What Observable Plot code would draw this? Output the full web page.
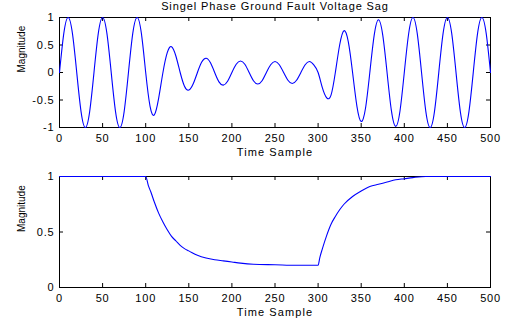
<!DOCTYPE html>
<html><head><meta charset="utf-8">
<script src="https://cdn.jsdelivr.net/npm/d3@7"></script>
<script src="https://cdn.jsdelivr.net/npm/@observablehq/plot@0.6"></script>
<style>body{margin:0;background:#fff} svg{display:block}</style>
</head><body><div id="chart"></div>
<script>
const title = "Singel Phase Ground Fault Voltage Sag";
const xLabel = "Time Sample";
const yLabel = "Magnitude";
const xTicks = [0, 50, 100, 150, 200, 250, 300, 350, 400, 450, 500];
const waveTicks = [-1, -0.5, 0, 0.5, 1];
const envTicks = [0, 0.5, 1];

const waveT = [0,5,10,15,20,25,30,35,40,45,50,55,60,65,70,75,80,85,90,95,
  100,105,110,115,120,125,130,135,140,145,150,155,160,165,170,175,180,185,190,195,
  200,205,210,215,220,225,230,235,240,245,250,255,260,265,270,275,280,285,290,295,
  300,305,310,315,320,325,330,335,340,345,350,355,360,365,370,375,380,385,390,395,
  400,405,410,415,420,425,430,435,440,445,450,455,460,465,470,475,480,485,490,495,500];
const waveV = [0,0.71,1,0.71,0,-0.71,-1,-0.71,0,0.71,1,0.71,0,-0.71,-1,-0.71,0,0.71,1,0.71,
  0,-0.61,-0.77,-0.47,0,0.36,0.47,0.30,0,-0.25,-0.32,-0.21,0,0.19,0.26,0.18,0,-0.17,-0.23,-0.16,
  0,0.15,0.21,0.15,0,-0.15,-0.21,-0.15,0,0.14,0.2,0.14,0,-0.14,-0.2,-0.14,0,0.14,0.2,0.14,
  0,-0.28,-0.46,-0.41,0,0.5,0.76,0.56,0,-0.61,-0.89,-0.65,0,0.67,0.96,0.68,0,-0.69,-0.98,-0.7,
  0,0.7,1,0.71,0,-0.71,-1,-0.71,0,0.71,1,0.71,0,-0.71,-1,-0.71,0,0.71,1,0.71,0];

const envT = [0,50,100,103,106,110,115,120,125,130,135,140,145,150,160,170,180,190,200,210,225,250,275,300,
  302,305,310,315,320,325,330,340,350,360,370,380,390,400,410,425,450,500];
const envV = [1,1,1,0.92,0.86,0.77,0.67,0.59,0.52,0.46,0.42,0.38,0.35,0.33,0.29,0.265,0.25,0.24,0.23,0.22,0.21,0.205,0.2,0.2,
  0.27,0.35,0.47,0.57,0.64,0.7,0.75,0.82,0.87,0.91,0.93,0.95,0.97,0.98,0.99,1,1,1];

const wave = waveT.map((t, i) => ({t, v: waveV[i]}));
const env = envT.map((t, i) => ({t, v: envV[i]}));

const W = 505, ML = 59, MR = 15;
const font = "'Liberation Sans', Arial, Helvetica, sans-serif";

function panel({data, yDomain, yTicks, height, marginTop, marginBottom, curve, titleText}) {
  const plotH = height - marginTop - marginBottom;
  const plotW = W - ML - MR;
  const marks = [
    Plot.frame({stroke: "#000", strokeWidth: 1}),
    Plot.tickX(xTicks, {x: d => d, insetTop: plotH - 4, stroke: "#000"}),
    Plot.tickX(xTicks, {x: d => d, insetBottom: plotH - 4, stroke: "#000"}),
    Plot.tickY(yTicks, {y: d => d, insetRight: plotW - 4, stroke: "#000"}),
    Plot.tickY(yTicks, {y: d => d, insetLeft: plotW - 4, stroke: "#000"}),
    Plot.line(data, {x: "t", y: "v", stroke: "#0000ff", strokeWidth: 1.1, curve}),
    Plot.axisX(xTicks, {anchor: "bottom", tickSize: 0, tickPadding: 7, label: null, fontSize: 11, tickFormat: d => String(d)}),
    Plot.axisY(yTicks, {anchor: "left", tickSize: 0, tickPadding: 5, label: null, fontSize: 11, tickFormat: d => String(d)}),
    Plot.text([xLabel], {text: d => d, frameAnchor: "bottom", dy: 25, lineAnchor: "middle", fontSize: 11}),
    Plot.text([yLabel], {text: d => d, frameAnchor: "left", dx: -38, rotate: -90, lineAnchor: "middle", fontSize: 10})
  ];
  if (titleText) marks.push(Plot.text([titleText], {text: d => d, frameAnchor: "top", dy: -11, lineAnchor: "middle", fontSize: 11}));
  return Plot.plot({
    width: W, height, marginLeft: ML, marginRight: MR, marginTop, marginBottom,
    style: {fontFamily: font, fontSize: "11px", color: "#000", background: "#fff", overflow: "visible"},
    x: {domain: [0, 500]},
    y: {domain: yDomain},
    marks
  });
}

const topPanel = panel({data: wave, yDomain: [-1, 1], yTicks: waveTicks, height: 160, marginTop: 17, marginBottom: 33, curve: "natural", titleText: title});
const bottomPanel = panel({data: env, yDomain: [0, 1], yTicks: envTicks, height: 161, marginTop: 16, marginBottom: 34, curve: "monotone-x"});

const root = document.getElementById("chart");
root.append(topPanel, bottomPanel);

// slightly widened lettering as in the reference
for (const svg of [topPanel, bottomPanel]) {
  d3.select(svg).selectAll("text").each(function() {
    const s = this.textContent;
    if (s === yLabel) return;
    const sp = s === title ? 0.9 : s === xLabel ? 1.1 : 0.8;
    d3.select(this).style("letter-spacing", sp + "px");
  });
}
</script>
</body></html>
